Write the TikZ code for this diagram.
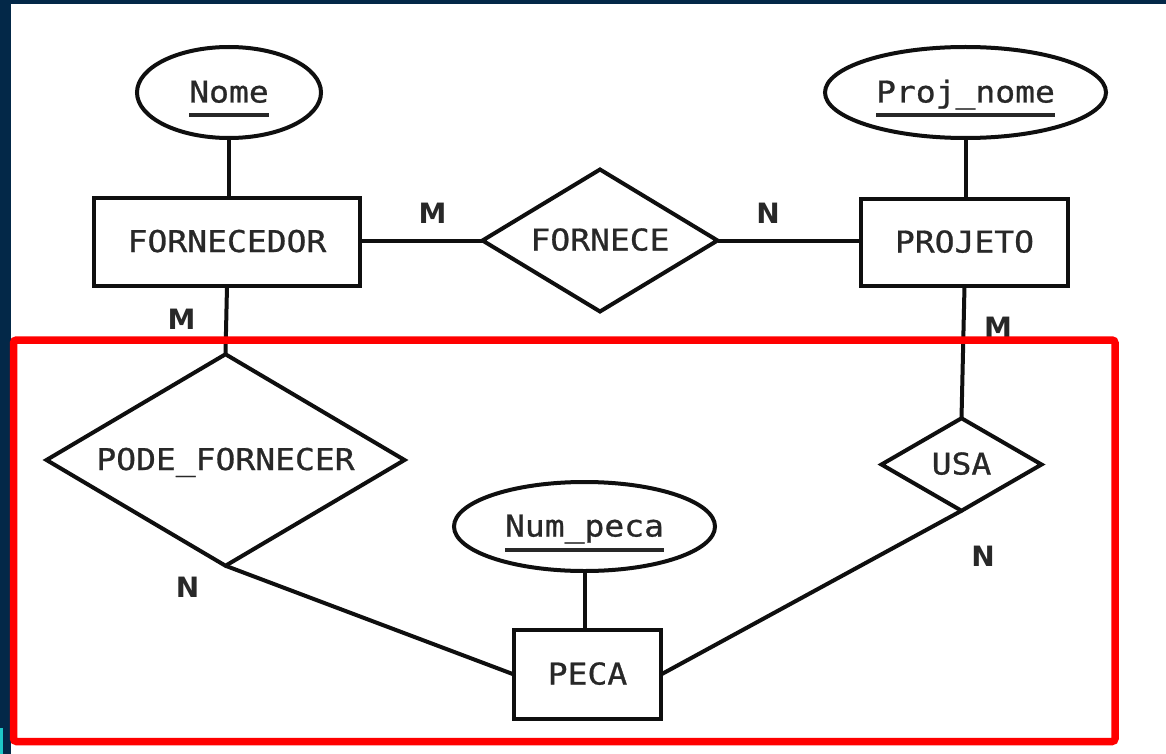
\documentclass[tikz,border=0pt]{standalone}
\usepackage{fontspec}
\setmainfont{DejaVu Sans}
\newfontfamily\ermono[FakeStretch=1.1,FakeBold=0.8]{DejaVu Sans Mono}
\newfontfamily\erlabel{DejaVu Sans}
\usetikzlibrary{shapes.geometric}

\definecolor{framenavy}{RGB}{3,40,72}
\definecolor{framecyan}{RGB}{30,200,200}
\definecolor{ink}{RGB}{15,15,15}
\definecolor{textgray}{RGB}{40,40,40}
\definecolor{hilite}{RGB}{255,0,0}

% key attribute: text with a thick bar underneath
\newcommand\pkey[1]{\setbox0\hbox{#1}\rlap{\smash{\rule[-15pt]{\wd0}{4pt}}}\box0}

\tikzset{
  erbase/.style={draw=ink, line width=4pt, inner sep=0pt, outer sep=0pt,
    text=textgray, font=\ermono\fontsize{30}{34}\selectfont,
    text height=20pt, text depth=0pt},
  entity/.style={erbase, rectangle},
  attrib/.style={erbase, ellipse},
  relship/.style={erbase, diamond},
  card/.style={inner sep=0pt, text=textgray,
    font=\erlabel\bfseries\fontsize{28}{30}\selectfont},
  link/.style={draw=ink, line width=4pt},
}

\begin{document}
\begin{tikzpicture}[x=1pt, y=-1pt]
  \useasboundingbox (0,0) rectangle (1166,754);
  \fill[white] (0,0) rectangle (1166,754);
  % window frame strips
  \fill[framenavy] (0,0) rectangle (1166,4);
  \fill[framenavy] (0,0) rectangle (11,754);
  \fill[framecyan] (0,728) rectangle (2.5,754);

  % entities
  \node[entity, minimum width=266pt, minimum height=88pt] (forn) at (227,242) {FORNECEDOR};
  \node[entity, minimum width=207pt, minimum height=87pt] (projeto) at (964.5,242.5) {PROJETO};
  \node[entity, minimum width=147pt, minimum height=89pt] (peca) at (587.5,674.5) {PECA};

  % attributes
  \node[attrib, minimum width=184pt, minimum height=91pt] (nome) at (229,92.5) {\pkey{Nome}};
  \node[attrib, minimum width=281pt, minimum height=91pt] (proj) at (965.5,92.5) {\pkey{Proj\_nome}};
  \node[attrib, minimum width=261pt, minimum height=89pt] (num) at (584.5,526.5) {\pkey{Num\_peca}};

  % relationships
  \node[relship, shape aspect=1.65, minimum width=235pt, minimum height=142pt] (fornece) at (600,240.5) {FORNECE};
  \node[relship, shape aspect=1.69, minimum width=358pt, minimum height=211.5pt] (pode) at (225.5,460) {PODE\_FORNECER};
  \node[relship, shape aspect=1.72, minimum width=160pt, minimum height=92.5pt] (usa) at (961.5,464.5) {USA};

  % connectors
  \draw[link] (nome.south) -- (nome.south |- forn.north);
  \draw[link] (proj.south) -- (proj.south |- projeto.north);
  \draw[link] (num.south) -- (num.south |- peca.north);
  \draw[link] (fornece.west -| forn.east) -- (fornece.west);
  \draw[link] (fornece.east) -- (fornece.east -| projeto.west);
  \draw[link] (forn.south) -- (pode.north);
  \draw[link] (projeto.south) -- (usa.north);
  \draw[link] (pode.south) -- (peca.west);
  \draw[link] (usa.south) -- (peca.east);

  % cardinalities
  \node[card] (cm1) at (432.5,213.5) {M};
  \node[card] (cn1) at (768,213.5) {N};
  \node[card] (cm2) at (181.5,319.5) {M};
  \node[card] (cn2) at (187.5,587) {N};
  \node[card] (cm3) at (998,327.5) {M};
  \node[card] (cn3) at (983,556) {N};

  % highlight box
  \draw[hilite, line width=7.5pt, rounded corners=3pt] (13.5,340) rectangle (1115,741.5);
\end{tikzpicture}
\end{document}
